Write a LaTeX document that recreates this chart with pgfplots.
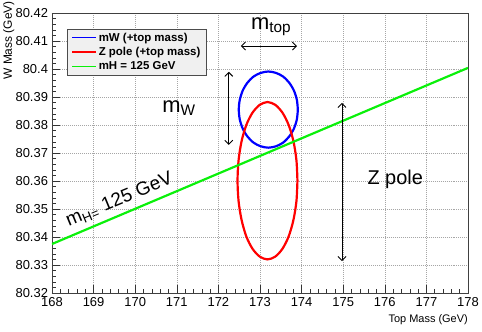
\documentclass[border=0pt]{standalone}
\usepackage{fontspec}
\setmainfont{Liberation Sans}
\usepackage{pgfplots}
\pgfplotsset{compat=1.18}
\usetikzlibrary{arrows.meta}
\definecolor{rootgreen}{RGB}{10,240,10}
\pgfplotsset{legend image code/.code={\draw[mark repeat=2,mark phase=2,#1] plot coordinates {(0bp,0bp) (12bp,0bp) (24bp,0bp)};}}
\newcommand{\lgd}{\fontsize{11.5}{13}\selectfont\bfseries}

\begin{document}
\begin{tikzpicture}
\useasboundingbox (-52bp,-39bp) rectangle (430bp,293bp);
\begin{axis}[
  scale only axis,
  width=416bp, height=280bp,
  xmin=168, xmax=178,
  ymin=80.32, ymax=80.42,
  xtick={168,169,...,178},
  ytick={80.32,80.33,80.34,80.35,80.36,80.37,80.38,80.39,80.40,80.41,80.42},
  yticklabels={80.32,80.33,80.34,80.35,80.36,80.37,80.38,80.39,80.4,80.41,80.42},
  minor tick num=4,
  tick pos=left,
  tick align=inside,
  major tick length=8bp,
  minor tick length=4bp,
  tick style={black!80, line width=0.5pt},
  axis line style={black!75, line width=0.6pt},
  grid=major,
  major grid style={gray!70, line width=0.4pt, dash pattern=on 1pt off 1pt},
  /pgf/number format/assume math mode=true,
  ticklabel style={font=\fontsize{13}{15}\selectfont},
  xticklabel style={yshift=-1bp},
  yticklabel style={xshift=-0.5bp},
  legend style={at={(rel axis cs:0.036,0.943)}, anchor=north west,
    fill=black!6, draw=black!70, line width=0.5pt,
    font=\lgd,
    row sep=0.8bp, inner xsep=4bp, inner ysep=1.5bp},
  legend cell align=left,
  legend image post style={line width=1.6pt},
]
\addplot[blue, line width=2.2pt, smooth] coordinates {
  (173.910,80.3855) (173.886,80.3890) (173.815,80.3923) (173.702,80.3951)
  (173.555,80.3973) (173.384,80.3986) (173.200,80.3991) (173.016,80.3986)
  (172.845,80.3973) (172.698,80.3951) (172.585,80.3923) (172.514,80.3890)
  (172.490,80.3855) (172.514,80.3820) (172.585,80.3787) (172.698,80.3759)
  (172.845,80.3737) (173.016,80.3724) (173.200,80.3719) (173.384,80.3724)
  (173.555,80.3737) (173.702,80.3759) (173.815,80.3787) (173.886,80.3820)
  (173.910,80.3855)
};
\addlegendentry{mW (+top mass)}
\addplot[red, line width=2.2pt, smooth] coordinates {
  (173.900,80.3601) (173.876,80.3674) (173.804,80.3742) (173.689,80.3800)
  (173.540,80.3844) (173.367,80.3872) (173.180,80.3882) (172.994,80.3872)
  (172.820,80.3844) (172.671,80.3800) (172.557,80.3742) (172.485,80.3674)
  (172.460,80.3601) (172.485,80.3528) (172.557,80.3461) (172.671,80.3402)
  (172.820,80.3358) (172.994,80.3330) (173.180,80.3320) (173.367,80.3330)
  (173.540,80.3358) (173.689,80.3402) (173.804,80.3461) (173.876,80.3528)
  (173.900,80.3601)
};
\addlegendentry{Z pole (+top mass)}
\addplot[rootgreen, line width=2.2pt] coordinates {(168,80.3375) (178,80.4004)};
\addlegendentry{mH = 125 GeV}

% annotations
\draw[{Straight Barb[length=4bp,width=8bp]}-{Straight Barb[length=4bp,width=8bp]}, line width=0.9pt]
  (axis cs:172.54,80.4082) -- (axis cs:173.89,80.4082);
\node[font=\fontsize{22}{24}\selectfont] at (axis cs:173.27,80.4150) {m\textsubscript{top}};
\draw[{Straight Barb[length=4bp,width=8bp]}-{Straight Barb[length=4bp,width=8bp]}, line width=0.9pt]
  (axis cs:172.25,80.3990) -- (axis cs:172.25,80.3729);
\node[font=\fontsize{22}{24}\selectfont] at (axis cs:171.05,80.3860) {m\textsubscript{W}};
\draw[{Straight Barb[length=4bp,width=8bp]}-{Straight Barb[length=4bp,width=8bp]}, line width=0.9pt]
  (axis cs:174.97,80.3879) -- (axis cs:174.97,80.3314);
\node[font=\fontsize{20}{22}\selectfont] at (axis cs:176.25,80.3607) {Z pole};
\node[font=\fontsize{19}{21}\selectfont, rotate=22.5] at (axis cs:169.62,80.3533) {m\textsubscript{H=} 125 GeV};
\end{axis}
\node[rotate=90, anchor=north east, font=\fontsize{12}{14}\selectfont, inner sep=0pt] at (-49bp,292bp) {W Mass (GeV)};
\node[anchor=east, font=\fontsize{11}{13}\selectfont, inner sep=0pt] at (416bp,-27bp) {Top Mass (GeV)};
\end{tikzpicture}
\end{document}
